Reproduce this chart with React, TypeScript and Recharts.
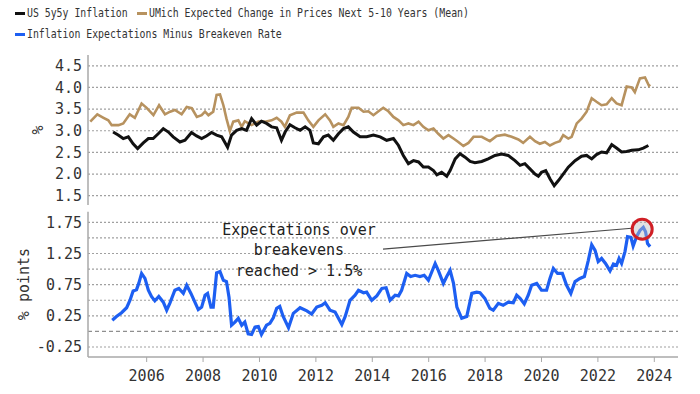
import React from 'react';
import {
  LineChart,
  Line,
  XAxis,
  YAxis,
  ReferenceLine,
  ReferenceDot,
} from 'recharts';

// ---------------------------------------------------------------------------
// Data (decimal years)
// ---------------------------------------------------------------------------

const umichYears = [
  2004.0, 2004.25, 2004.47, 2004.64, 2004.76, 2005.0, 2005.17, 2005.4, 2005.58, 2005.82,
  2006.0, 2006.24, 2006.44, 2006.65, 2006.83, 2007.0, 2007.24, 2007.42, 2007.6, 2007.78,
  2007.95, 2008.07, 2008.19, 2008.36, 2008.48, 2008.6, 2008.72, 2008.83, 2008.95, 2009.07,
  2009.25, 2009.37, 2009.48, 2009.72, 2009.96, 2010.2, 2010.43, 2010.61, 2010.78, 2010.9,
  2011.08, 2011.32, 2011.56, 2011.73, 2011.91, 2012.09, 2012.33, 2012.5, 2012.62, 2012.8,
  2012.98, 2013.15, 2013.27, 2013.51, 2013.69, 2013.86, 2014.04, 2014.22, 2014.39, 2014.57,
  2014.75, 2014.93, 2015.1, 2015.28, 2015.46, 2015.64, 2015.81, 2015.99, 2016.17, 2016.34,
  2016.52, 2016.7, 2016.88, 2017.05, 2017.23, 2017.41, 2017.59, 2017.88, 2018.17, 2018.41,
  2018.7, 2018.94, 2019.18, 2019.35, 2019.59, 2019.77, 2019.94, 2020.12, 2020.3, 2020.48,
  2020.65, 2020.77, 2020.95, 2021.07, 2021.25, 2021.42, 2021.6, 2021.78, 2021.95, 2022.13,
  2022.31, 2022.49, 2022.66, 2022.84, 2023.02, 2023.2, 2023.31, 2023.49, 2023.67, 2023.81,
  2023.85,
];
const umichValues = [
  3.21, 3.38, 3.3, 3.24, 3.13, 3.13, 3.17, 3.38, 3.3, 3.63,
  3.53, 3.36, 3.59, 3.38, 3.44, 3.48, 3.38, 3.55, 3.52, 3.32,
  3.36, 3.44, 3.36, 3.44, 3.83, 3.84, 3.59, 3.28, 2.99, 3.21,
  3.24, 3.09, 3.22, 3.13, 3.21, 3.21, 3.24, 3.3, 3.21, 3.09,
  3.36, 3.42, 3.42, 3.24, 3.09, 3.24, 3.38, 3.24, 3.09, 3.17,
  3.13, 3.32, 3.53, 3.53, 3.44, 3.45, 3.36, 3.45, 3.53, 3.45,
  3.32, 3.24, 3.13, 3.17, 3.13, 3.21, 3.09, 3.01, 3.05, 2.93,
  2.82, 2.9, 2.82, 2.74, 2.65, 2.72, 2.86, 2.86, 2.76, 2.88,
  2.91, 2.86, 2.8, 2.72, 2.86, 2.76, 2.7, 2.74, 2.66, 2.72,
  2.76, 2.9, 2.82, 2.86, 3.17, 3.28, 3.44, 3.75, 3.67, 3.59,
  3.61, 3.75, 3.63, 3.59, 4.02, 4.0, 3.89, 4.21, 4.23, 4.04,
  4.07,
];

const fiveYearYears = [
  2004.81, 2004.99, 2005.17, 2005.35, 2005.52, 2005.68, 2005.88, 2006.06, 2006.23, 2006.41,
  2006.59, 2006.77, 2006.94, 2007.18, 2007.36, 2007.59, 2007.77, 2007.95, 2008.12, 2008.3,
  2008.48, 2008.66, 2008.87, 2009.01, 2009.19, 2009.37, 2009.54, 2009.72, 2009.9, 2010.07,
  2010.25, 2010.43, 2010.61, 2010.78, 2010.91, 2011.08, 2011.26, 2011.44, 2011.62, 2011.79,
  2011.91, 2012.09, 2012.27, 2012.44, 2012.62, 2012.8, 2012.98, 2013.15, 2013.33, 2013.57,
  2013.8, 2014.04, 2014.28, 2014.51, 2014.75, 2014.93, 2015.1, 2015.28, 2015.46, 2015.64,
  2015.81, 2015.99, 2016.17, 2016.29, 2016.46, 2016.64, 2016.76, 2016.94, 2017.11, 2017.29,
  2017.47, 2017.64, 2017.88, 2018.11, 2018.35, 2018.59, 2018.82, 2019.06, 2019.24, 2019.41,
  2019.59, 2019.77, 2019.89, 2020.0, 2020.15, 2020.3, 2020.45, 2020.6, 2020.77, 2020.95,
  2021.19, 2021.42, 2021.6, 2021.78, 2021.95, 2022.13, 2022.31, 2022.49, 2022.66, 2022.84,
  2023.02, 2023.2, 2023.43, 2023.61, 2023.79,
];
const fiveYearValues = [
  2.97, 2.9, 2.82, 2.86, 2.7, 2.59, 2.72, 2.82, 2.82, 2.93,
  3.05, 2.97, 2.86, 2.74, 2.78, 2.96, 2.88, 2.82, 2.88, 2.96,
  2.9, 2.86, 2.62, 2.9, 3.01, 3.05, 3.01, 3.28, 3.13, 3.22,
  3.17, 3.09, 3.07, 2.78, 2.97, 3.14, 3.07, 3.01, 3.09, 3.01,
  2.72, 2.7, 2.86, 2.9, 2.78, 2.93, 3.05, 3.09, 2.97, 2.86,
  2.86, 2.9, 2.86, 2.78, 2.82, 2.66, 2.43, 2.24, 2.31, 2.28,
  2.16, 2.16, 2.08, 1.98, 2.04, 1.95, 2.08, 2.35, 2.47, 2.39,
  2.29, 2.26, 2.29, 2.35, 2.43, 2.46, 2.43, 2.31, 2.2, 2.24,
  2.12, 2.0, 1.95, 2.04, 2.08, 1.89, 1.73, 1.85, 2.0, 2.16,
  2.31, 2.41, 2.43, 2.35, 2.45, 2.51, 2.49, 2.68, 2.6, 2.51,
  2.52, 2.55, 2.56, 2.6, 2.66,
];

const gapYears = [
  2004.78, 2004.93, 2005.11, 2005.29, 2005.41, 2005.52, 2005.64, 2005.72, 2005.82, 2005.94,
  2006.06, 2006.17, 2006.29, 2006.43, 2006.59, 2006.71, 2006.82, 2007.0, 2007.14, 2007.3,
  2007.42, 2007.57, 2007.71, 2007.83, 2007.95, 2008.07, 2008.16, 2008.28, 2008.36, 2008.48,
  2008.6, 2008.72, 2008.83, 2008.92, 2009.01, 2009.13, 2009.25, 2009.37, 2009.48, 2009.6,
  2009.72, 2009.84, 2009.96, 2010.07, 2010.25, 2010.37, 2010.49, 2010.61, 2010.72, 2010.84,
  2011.03, 2011.2, 2011.44, 2011.68, 2011.85, 2012.03, 2012.21, 2012.33, 2012.5, 2012.68,
  2012.8, 2012.92, 2013.04, 2013.21, 2013.39, 2013.51, 2013.69, 2013.8, 2013.98, 2014.16,
  2014.34, 2014.49, 2014.63, 2014.81, 2014.93, 2015.04, 2015.22, 2015.36, 2015.52, 2015.69,
  2015.84, 2015.99, 2016.23, 2016.34, 2016.52, 2016.64, 2016.76, 2016.88, 2017.0, 2017.17,
  2017.35, 2017.53, 2017.7, 2017.82, 2017.99, 2018.17, 2018.29, 2018.47, 2018.64, 2018.82,
  2019.0, 2019.12, 2019.24, 2019.39, 2019.53, 2019.65, 2019.83, 2020.0, 2020.18, 2020.3,
  2020.42, 2020.57, 2020.74, 2020.89, 2021.04, 2021.19, 2021.36, 2021.52, 2021.66, 2021.78,
  2021.9, 2022.01, 2022.13, 2022.27, 2022.43, 2022.55, 2022.66, 2022.75, 2022.84, 2022.96,
  2023.05, 2023.17, 2023.25, 2023.37, 2023.49, 2023.61, 2023.69, 2023.76, 2023.85,
];
const gapValues = [
  0.18, 0.24, 0.3, 0.38, 0.5, 0.65, 0.67, 0.77, 0.93, 0.85,
  0.66, 0.56, 0.49, 0.56, 0.47, 0.34, 0.45, 0.66, 0.69, 0.61,
  0.74, 0.61, 0.47, 0.35, 0.39, 0.58, 0.61, 0.39, 0.39, 0.94,
  0.96, 0.82, 0.8, 0.55, 0.1, 0.15, 0.21, 0.1, 0.15, -0.04,
  -0.05, 0.07, 0.08, -0.05, 0.1, 0.13, 0.22, 0.37, 0.4, 0.24,
  0.06, 0.29, 0.38, 0.33, 0.28, 0.39, 0.42, 0.46, 0.34, 0.31,
  0.21, 0.11, 0.24, 0.5, 0.58, 0.66, 0.62, 0.63, 0.5, 0.57,
  0.69, 0.7, 0.5, 0.58, 0.57, 0.66, 0.93, 0.88, 0.9, 0.88,
  0.9, 0.82, 1.09, 0.98, 0.77, 0.88, 0.98, 0.77, 0.39, 0.21,
  0.24, 0.61, 0.63, 0.62, 0.53, 0.37, 0.34, 0.45, 0.42, 0.47,
  0.46, 0.58, 0.53, 0.44, 0.58, 0.74, 0.77, 0.66, 0.66, 0.85,
  1.01, 0.93, 0.93, 0.74, 0.61, 0.8, 0.85, 0.88, 1.14, 1.39,
  1.3, 1.12, 1.17, 1.09, 0.97, 1.08, 1.06, 1.17, 1.09, 1.28,
  1.52, 1.51, 1.37, 1.52, 1.62, 1.67, 1.6, 1.41, 1.36,
];

const yearTicks = [2006, 2008, 2010, 2012, 2014, 2016, 2018, 2020, 2022, 2024];
const topTicks = [1.5, 2.0, 2.5, 3.0, 3.5, 4.0, 4.5];
const bottomTicks = [-0.25, 0, 0.25, 0.5, 0.75, 1.0, 1.25, 1.5, 1.75];
const bottomLabelled = [-0.25, 0.25, 0.75, 1.25, 1.75];

const annotationLines = ['Expectations over', 'breakevens', 'reached > 1.5%'];
const peakPoint = { x: 2023.57, y: 1.64 };
const pointerFrom = { x: 2014.38, y: 1.32 };
const pointerTo = { x: 2023.2, y: 1.655 };

// ---------------------------------------------------------------------------
// Styling
// ---------------------------------------------------------------------------

const MONO = '"DejaVu Sans Mono", "Liberation Mono", monospace';
const X_DOMAIN: [number, number] = [2003.92, 2024.84];
const TICK = { fontSize: 15, fill: '#333', fontFamily: MONO };
const GRID = '#a0a0a0';
const AXIS = '#a8a8a8';

const C_5Y5Y = '#111111';
const C_UMICH = '#b7925f';
const C_GAP = '#1d5ff2';

const zip = (xs: number[], ys: number[]) => xs.map((x, i) => ({ x, v: ys[i] }));

export default function App() {
  const umich = zip(umichYears, umichValues);
  const fiveYear = zip(fiveYearYears, fiveYearValues);
  const gap = zip(gapYears, gapValues);

  return (
    <div
      style={{
        position: 'absolute',
        left: 0,
        top: 0,
        width: 700,
        height: 394,
        background: '#fff',
        overflow: 'hidden',
        fontFamily: MONO,
      }}
    >
      {/* legend */}
      <div style={{ position: 'absolute', left: 0, top: 0, color: '#333' }}>
        {[
          { color: C_5Y5Y, label: 'US 5y5y Inflation', x: 15, y: 13 },
          { color: C_UMICH, label: 'UMich Expected Change in Prices Next 5-10 Years (Mean)', x: 137, y: 13 },
          { color: C_GAP, label: 'Inflation Expectations Minus Breakeven Rate', x: 15, y: 34 },
        ].map((item) => (
          <div
            key={item.label}
            style={{
              position: 'absolute',
              left: item.x,
              top: item.y - 8,
              height: 16,
              display: 'flex',
              alignItems: 'center',
              whiteSpace: 'nowrap',
            }}
          >
            <span style={{ width: 10, height: 3, background: item.color, marginRight: 2 }} />
            <span
              style={{
                fontSize: 12,
                lineHeight: '16px',
                display: 'inline-block',
                transform: 'scaleX(0.82)',
                transformOrigin: 'left center',
              }}
            >
              {item.label}
            </span>
          </div>
        ))}
      </div>

      {/* top panel */}
      <div style={{ position: 'absolute', left: 0, top: 0 }}>
        <LineChart width={700} height={394} margin={{ top: 55, right: 22, bottom: 189, left: 0 }}>
          <XAxis
            type="number"
            dataKey="x"
            domain={X_DOMAIN}
            allowDataOverflow
            ticks={yearTicks}
            tick={false}
            tickLine={false}
            height={0}
            axisLine={{ stroke: AXIS, strokeWidth: 1.5 }}
          />
          <YAxis
            type="number"
            domain={[1.285, 4.75]}
            allowDataOverflow
            ticks={topTicks}
            interval={0}
            width={88}
            tick={TICK}
            tickSize={0}
            tickMargin={6}
            tickLine={false}
            axisLine={{ stroke: AXIS, strokeWidth: 1.5 }}
            tickFormatter={(v: number) => v.toFixed(1)}
          />
          <ReferenceLine y={topTicks[0]} stroke={GRID} strokeDasharray="2 2" strokeWidth={1.2} />
          <ReferenceLine y={topTicks[1]} stroke={GRID} strokeDasharray="2 2" strokeWidth={1.2} />
          <ReferenceLine y={topTicks[2]} stroke={GRID} strokeDasharray="2 2" strokeWidth={1.2} />
          <ReferenceLine y={topTicks[3]} stroke={GRID} strokeDasharray="2 2" strokeWidth={1.2} />
          <ReferenceLine y={topTicks[4]} stroke={GRID} strokeDasharray="2 2" strokeWidth={1.2} />
          <ReferenceLine y={topTicks[5]} stroke={GRID} strokeDasharray="2 2" strokeWidth={1.2} />
          <ReferenceLine y={topTicks[6]} stroke={GRID} strokeDasharray="2 2" strokeWidth={1.2} />
          <Line
            data={umich}
            dataKey="v"
            type="linear"
            stroke={C_UMICH}
            strokeWidth={2.6}
            dot={false}
            isAnimationActive={false}
          />
          <Line
            data={fiveYear}
            dataKey="v"
            type="linear"
            stroke={C_5Y5Y}
            strokeWidth={3}
            dot={false}
            isAnimationActive={false}
          />
        </LineChart>
      </div>

      {/* bottom panel */}
      <div style={{ position: 'absolute', left: 0, top: 0 }}>
        <LineChart width={700} height={394} margin={{ top: 211.7, right: 22, bottom: 7, left: 0 }}>
          <XAxis
            type="number"
            dataKey="x"
            domain={X_DOMAIN}
            allowDataOverflow
            ticks={yearTicks}
            interval={0}
            height={30}
            tick={TICK}
            tickSize={5}
            tickMargin={8}
            tickLine={{ stroke: AXIS }}
            axisLine={{ stroke: AXIS, strokeWidth: 1.5 }}
          />
          <YAxis
            type="number"
            domain={[-0.41, 1.92]}
            allowDataOverflow
            ticks={bottomTicks}
            interval={0}
            width={88}
            tick={TICK}
            tickSize={0}
            tickMargin={6}
            tickLine={false}
            axisLine={{ stroke: AXIS, strokeWidth: 1.5 }}
            tickFormatter={(v: number) => (bottomLabelled.includes(v) ? v.toFixed(2) : '')}
          />
          <ReferenceLine y={bottomTicks[0]} stroke={GRID} strokeDasharray="2 2" strokeWidth={1.2} />
          <ReferenceLine y={bottomTicks[2]} stroke={GRID} strokeDasharray="2 2" strokeWidth={1.2} />
          <ReferenceLine y={bottomTicks[3]} stroke={GRID} strokeDasharray="2 2" strokeWidth={1.2} />
          <ReferenceLine y={bottomTicks[4]} stroke={GRID} strokeDasharray="2 2" strokeWidth={1.2} />
          <ReferenceLine y={bottomTicks[5]} stroke={GRID} strokeDasharray="2 2" strokeWidth={1.2} />
          <ReferenceLine y={bottomTicks[6]} stroke={GRID} strokeDasharray="2 2" strokeWidth={1.2} />
          <ReferenceLine y={bottomTicks[7]} stroke={GRID} strokeDasharray="2 2" strokeWidth={1.2} />
          <ReferenceLine y={bottomTicks[8]} stroke={GRID} strokeDasharray="2 2" strokeWidth={1.2} />
          <ReferenceLine y={0} stroke="#8f8f8f" strokeDasharray="4 3" strokeWidth={1.2} />
          <ReferenceLine
            segment={[pointerFrom, pointerTo]}
            stroke="#4a4a4a"
            strokeWidth={1.2}
          />
          <Line
            data={gap}
            dataKey="v"
            type="linear"
            stroke={C_GAP}
            strokeWidth={3.2}
            dot={false}
            isAnimationActive={false}
          />
          <ReferenceDot
            x={peakPoint.x}
            y={peakPoint.y}
            r={10}
            fill="rgba(190,190,190,0.45)"
            stroke="#d01f25"
            strokeWidth={3}
          />
        </LineChart>
      </div>

      {/* axis titles */}
      <div
        style={{
          position: 'absolute',
          left: 37.5,
          top: 130,
          transform: 'translate(-50%, -50%) rotate(-90deg)',
          fontSize: 15,
          color: '#333',
          whiteSpace: 'nowrap',
        }}
      >
        %
      </div>
      <div
        style={{
          position: 'absolute',
          left: 23.5,
          top: 284,
          transform: 'translate(-50%, -50%) rotate(-90deg)',
          fontSize: 15,
          color: '#333',
          whiteSpace: 'nowrap',
        }}
      >
        % points
      </div>

      {/* annotation */}
      {annotationLines.map((line, i) => (
        <div
          key={line}
          style={{
            position: 'absolute',
            left: 299,
            top: 229.5 + i * 20.5,
            transform: 'translate(-50%, -50%)',
            fontSize: 15,
            color: '#222',
            whiteSpace: 'nowrap',
          }}
        >
          {line}
        </div>
      ))}
    </div>
  );
}
